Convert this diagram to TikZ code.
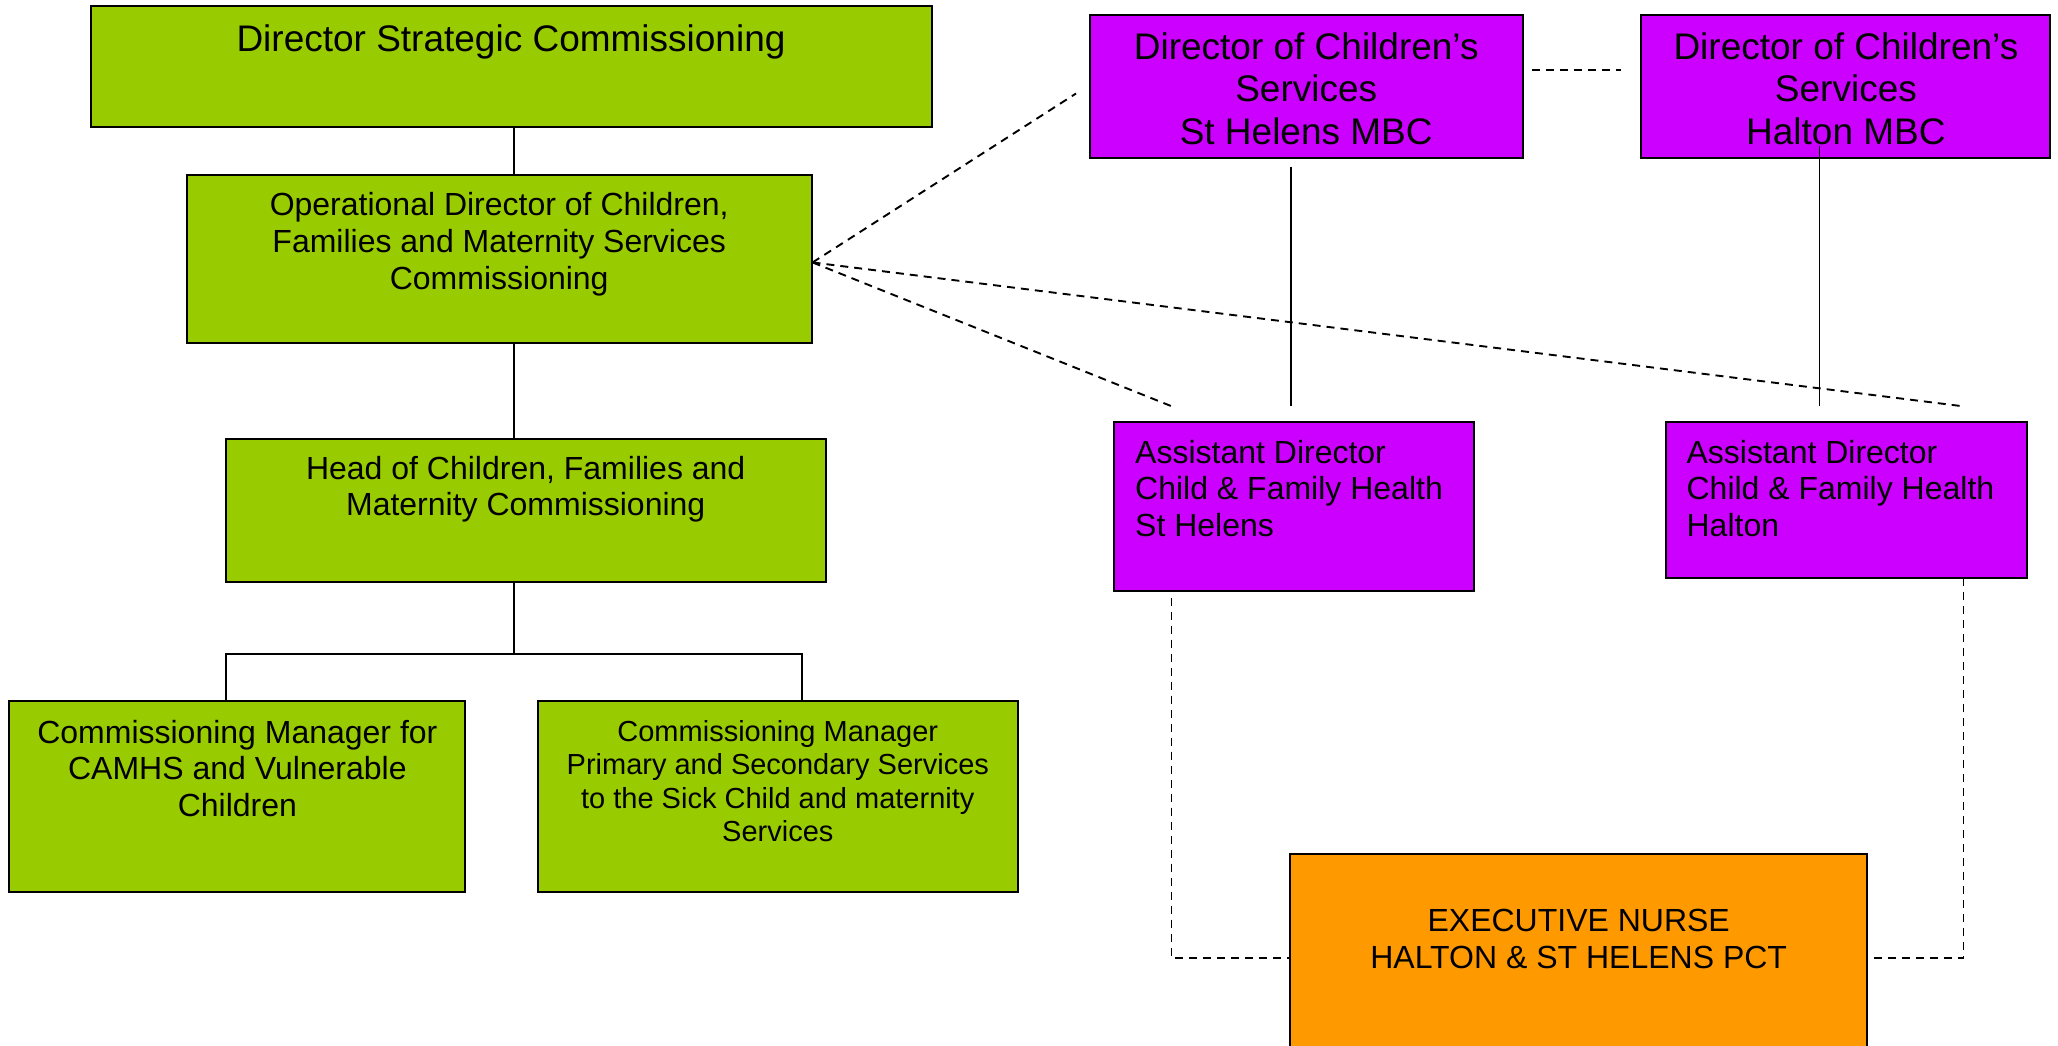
\documentclass[tikz,border=0pt]{standalone}
\usepackage{fontspec}
\setmainfont{Liberation Sans}
\usetikzlibrary{calc}
\definecolor{cgreen}{HTML}{99CC00}
\definecolor{cpurple}{HTML}{CC00FF}
\definecolor{corange}{HTML}{FF9900}
\tikzset{
  orgbox/.style={draw=black, line width=2pt, rectangle, inner sep=0pt},
  txt/.style={inner sep=0pt, anchor=base, align=center},
  txtl/.style={inner sep=0pt, anchor=base west, align=left},
  fA/.style={font=\fontsize{37}{42.5}\selectfont},
  fB/.style={font=\fontsize{32}{36.8}\selectfont},
  fC/.style={font=\fontsize{29}{33.5}\selectfont},
  sline/.style={draw=black, line width=1.9pt},
  dline/.style={draw=black, line width=1.9pt, dash pattern=on 8pt off 6pt},
}
\begin{document}
\begin{tikzpicture}[x=1pt, y=-1pt]
\clip (0,0) rectangle (2058,1045);
\fill[white] (0,0) rectangle (2058,1045);

% boxes
\node[orgbox, fill=cgreen, minimum width=841pt, minimum height=121pt] (dsc) at (511,66.5) {};
\node[orgbox, fill=cgreen, minimum width=624.5pt, minimum height=168.5pt] (opd) at (499.25,258.75) {};
\node[orgbox, fill=cgreen, minimum width=600pt, minimum height=143.9pt] (hcf) at (525.7,510.45) {};
\node[orgbox, fill=cgreen, minimum width=456pt, minimum height=191pt] (cmc) at (237.4,796.5) {};
\node[orgbox, fill=cgreen, minimum width=480.2pt, minimum height=191pt] (cmp) at (777.8,796.5) {};
\node[orgbox, fill=cpurple, minimum width=432.6pt, minimum height=143.9pt] (dsh) at (1306.2,86.45) {};
\node[orgbox, fill=cpurple, minimum width=408.9pt, minimum height=143.9pt] (dha) at (1845.85,86.45) {};
\node[orgbox, fill=cpurple, minimum width=360.7pt, minimum height=168.6pt] (ash) at (1293.95,506.7) {};
\node[orgbox, fill=cpurple, minimum width=360.7pt, minimum height=155.6pt] (aha) at (1846.15,500.2) {};
\node[orgbox, fill=corange, minimum width=576.6pt, minimum height=205.6pt] (exn) at (1578.7,957.2) {};

% texts (anchor = baseline of last line)
\node[txt, fA] (tdsc) at (511,51.7) {Director Strategic Commissioning};
\node[txt, fB] (topd) at (499.2,289.1) {Operational Director of Children,\\Families and Maternity Services\\Commissioning};
\node[txt, fB] (thcf) at (525.7,515.8) {Head of Children, Families and\\Maternity Commissioning};
\node[txt, fB] (tcmc) at (237.4,816.6) {Commissioning Manager for\\CAMHS and Vulnerable\\Children};
\node[txt, fC] (tcmp) at (777.8,841.9) {Commissioning Manager\\Primary and Secondary Services\\to the Sick Child and maternity\\Services};
\node[txt, fA] (tdsh) at (1306.2,144.3) {Director of Children’s\\Services\\St Helens MBC};
\node[txt, fA] (tdha) at (1845.9,144.3) {Director of Children’s\\Services\\Halton MBC};
\node[txtl, fB] (tash) at (1135,536.6) {Assistant Director\\Child \& Family Health\\St Helens};
\node[txtl, fB] (taha) at (1686.4,536.6) {Assistant Director\\Child \& Family Health\\Halton};
\node[txt, fB] (texn) at (1578.7,968.5) {EXECUTIVE NURSE\\HALTON \& ST HELENS PCT};

% coordinates
\coordinate (sp) at (513.6,0);
\coordinate (bar) at (513.6,653.6);
\coordinate (bl) at (225.7,653.6);
\coordinate (br) at (801.6,653.6);
\coordinate (hub) at ($(opd.east)+(0,3.7)$);
\coordinate (e1) at (1076,93.5);
\coordinate (e2) at (1172,406.4);
\coordinate (e3) at (1964,406.4);
\coordinate (v1) at (1291,406.4);
\coordinate (v2) at (1819.5,406.4);
\coordinate (lc) at (1171.5,958.3);
\coordinate (rc) at (1963.5,958.3);

% solid connectors
\draw[sline] (dsc.south -| sp) -- (opd.north -| sp);
\draw[sline] (opd.south -| sp) -- (hcf.north -| sp);
\draw[sline] (hcf.south -| sp) -- (bar);
\draw[sline] (cmc.north -| bl) -- (bl) -- (br) -- (cmp.north -| br);
\draw[sline] ($(dsh.south -| v1)+(0,7.3)$) -- (v1);
\draw[sline] ($(dha.south -| v2)+(0,-13)$) -- (v2);

% dashed connectors
\draw[dline] (hub) -- (e1);
\draw[dline] (hub) -- (e2);
\draw[dline] (hub) -- (e3);
\draw[dline] ($(dsh.east)+(8.3,-16.45)$) -- ($(dha.west)+(-19.3,-16.45)$);
\draw[dline] ($(ash.south -| lc)+(0,5.7)$) -- (lc) -- (exn.west |- lc);
\draw[dline] ($(exn.east |- rc)+(5.8,0)$) -- (rc) -- ($(aha.south -| rc)+(0,-5)$);
\end{tikzpicture}
\end{document}
